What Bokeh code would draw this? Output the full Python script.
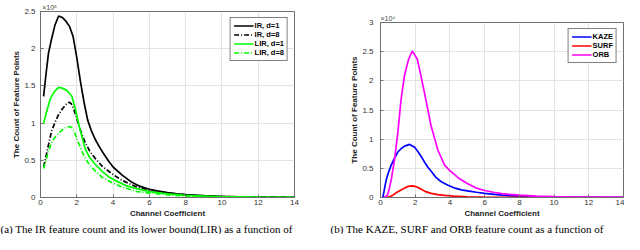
from bokeh.plotting import figure
from bokeh.layouts import row, column
from bokeh.models import FixedTicker, Legend, LegendItem, Title, LinearAxis
from bokeh.embed import file_html
from bokeh.resources import INLINE

FONT = "Liberation Sans"
SERIF = "Liberation Serif"

x_ticks = [0, 2, 4, 6, 8, 10, 12, 14]
left_y_ticks = [0, 0.5, 1, 1.5, 2, 2.5]
right_y_ticks = [0, 0.5, 1, 1.5, 2, 2.5, 3]

# ---- left panel: counts in units of 1e5 ----
ir_d1_x = [0.17, 0.3, 0.44, 0.6, 0.8, 1.0, 1.2, 1.4, 1.6, 1.8, 2.0, 2.2, 2.4, 2.6, 2.8, 3.0, 3.2, 3.5, 3.75, 4.0, 4.5, 5.0, 5.3, 5.5, 6.0, 6.5, 7.0, 7.5, 8.0, 9.0, 10.0, 11.0, 12.0, 13.0, 14.0]
ir_d1_y = [1.36, 1.65, 1.94, 2.12, 2.32, 2.44, 2.42, 2.37, 2.30, 2.16, 1.88, 1.56, 1.28, 1.04, 0.90, 0.79, 0.70, 0.58, 0.49, 0.41, 0.30, 0.21, 0.17, 0.15, 0.11, 0.085, 0.065, 0.05, 0.038, 0.024, 0.015, 0.01, 0.007, 0.005, 0.003]

ir_d8_x = [0.17, 0.3, 0.45, 0.62, 0.8, 0.99, 1.2, 1.4, 1.58, 1.7, 1.82, 1.95, 2.09, 2.25, 2.46, 2.7, 3.0, 3.4, 3.93, 4.5, 5.3, 6.0, 7.0, 8.0, 9.0, 10.0, 12.0, 14.0]
ir_d8_y = [0.41, 0.55, 0.72, 0.90, 1.01, 1.11, 1.19, 1.25, 1.28, 1.26, 1.20, 1.10, 0.99, 0.87, 0.74, 0.63, 0.53, 0.42, 0.32, 0.23, 0.14, 0.10, 0.06, 0.035, 0.02, 0.012, 0.005, 0.002]

lir_d1_x = [0.17, 0.3, 0.53, 0.75, 1.0, 1.2, 1.45, 1.73, 1.91, 2.05, 2.19, 2.46, 2.7, 3.0, 3.4, 3.75, 4.2, 4.7, 5.3, 6.0, 7.0, 8.0, 9.0, 10.0, 12.0, 14.0]
lir_d1_y = [0.99, 1.12, 1.32, 1.42, 1.48, 1.47, 1.44, 1.36, 1.20, 1.05, 0.90, 0.66, 0.54, 0.45, 0.35, 0.28, 0.22, 0.16, 0.12, 0.08, 0.05, 0.03, 0.018, 0.011, 0.005, 0.002]

lir_d8_x = [0.17, 0.3, 0.45, 0.62, 0.8, 0.99, 1.2, 1.4, 1.6, 1.72, 1.82, 1.95, 2.09, 2.25, 2.46, 2.7, 3.0, 3.4, 3.93, 4.5, 5.3, 6.0, 7.0, 8.0, 9.0, 10.0, 12.0, 14.0]
lir_d8_y = [0.39, 0.50, 0.63, 0.74, 0.81, 0.86, 0.91, 0.94, 0.955, 0.94, 0.90, 0.83, 0.74, 0.64, 0.53, 0.44, 0.36, 0.27, 0.20, 0.14, 0.08, 0.06, 0.035, 0.02, 0.012, 0.008, 0.003, 0.001]

# ---- right panel: counts in units of 1e4 ----
kaze_x = [0.13, 0.2, 0.32, 0.45, 0.61, 0.8, 1.0, 1.2, 1.39, 1.68, 1.97, 2.15, 2.35, 2.55, 2.73, 3.0, 3.21, 3.5, 3.89, 4.3, 4.66, 5.1, 5.53, 6.0, 7.0, 8.0, 9.0, 10.0, 12.0, 14.0]
kaze_y = [0.0, 0.10, 0.29, 0.42, 0.55, 0.67, 0.78, 0.84, 0.88, 0.91, 0.86, 0.79, 0.70, 0.60, 0.52, 0.42, 0.34, 0.27, 0.21, 0.16, 0.13, 0.11, 0.09, 0.07, 0.04, 0.02, 0.012, 0.008, 0.003, 0.001]

surf_x = [0.32, 0.5, 0.71, 0.95, 1.19, 1.4, 1.58, 1.87, 2.1, 2.35, 2.6, 2.92, 3.3, 3.7, 4.2, 5.0, 6.0, 7.0, 8.0, 10.0, 14.0]
surf_y = [0.0, 0.01, 0.04, 0.09, 0.13, 0.165, 0.19, 0.20, 0.18, 0.14, 0.10, 0.07, 0.05, 0.035, 0.022, 0.012, 0.006, 0.003, 0.002, 0.001, 0.0]

orb_x = [0.23, 0.42, 0.61, 0.81, 1.0, 1.19, 1.39, 1.62, 1.83, 1.96, 2.12, 2.35, 2.64, 2.92, 3.31, 3.7, 4.0, 4.47, 5.0, 5.53, 6.0, 6.5, 7.0, 8.0, 9.0, 10.0, 11.0, 12.0, 13.0, 14.0]
orb_y = [0.0, 0.05, 0.29, 0.65, 1.12, 1.69, 2.11, 2.37, 2.51, 2.45, 2.37, 2.06, 1.64, 1.22, 0.81, 0.55, 0.46, 0.34, 0.24, 0.16, 0.12, 0.09, 0.065, 0.04, 0.025, 0.015, 0.01, 0.007, 0.005, 0.003]

x_label = "Channel Coefficient"
y_label = "The Count of Feature Points"
caption_a = "(a) The IR feature count and its lower bound(LIR) as a function of"
caption_b = "(b) The KAZE, SURF and ORB feature count as a function of"
exp_a = "×10⁵"
exp_b = "×10⁴"


def make_fig(width, yticks, ymax, left, right, top, bottom, label_standoff):
    p = figure(width=width, height=234, x_range=(0, 14), y_range=(0, ymax),
               output_backend="svg", toolbar_location=None,
               min_border_left=left, min_border_right=right,
               min_border_top=top, min_border_bottom=bottom)
    p.title.text = ""
    p.outline_line_color = "#707070"
    p.outline_line_width = 1
    p.background_fill_color = "white"
    p.border_fill_color = "white"
    p.xaxis.ticker = FixedTicker(ticks=x_ticks)
    p.yaxis.ticker = FixedTicker(ticks=yticks)
    p.yaxis.major_label_overrides = {t: ("%g" % t) for t in yticks}
    for ax in (p.xaxis, p.yaxis):
        ax.axis_line_color = "#707070"
        ax.major_tick_line_color = "#707070"
        ax.major_tick_in = 3
        ax.major_tick_out = 0
        ax.minor_tick_line_color = None
        ax.major_label_text_font = FONT
        ax.major_label_text_font_size = "8px"
        ax.major_label_text_color = "#333333"
        ax.axis_label_text_font = FONT
        ax.axis_label_text_font_size = "8px"
        ax.axis_label_text_font_style = "bold"
        ax.axis_label_text_color = "#222222"
    p.xaxis.major_label_standoff = 2
    p.xaxis.axis_label_standoff = 1
    p.yaxis.major_label_standoff = label_standoff
    p.yaxis.axis_label_standoff = 0
    p.xaxis.axis_label = x_label
    p.yaxis.axis_label = y_label
    p.grid.grid_line_color = "#e3e3e3"
    p.grid.grid_line_width = 1
    return p


def add_caption(p, text, offset):
    t = Title(text=text, align="left", offset=offset, standoff=0,
              text_font=SERIF, text_font_size="11px", text_font_style="normal",
              text_color="black")
    p.add_layout(t, "below")


def style_legend(leg):
    leg.location = "top_right"
    leg.margin = 6
    leg.padding = 3
    leg.spacing = 0
    leg.border_line_color = "black"
    leg.border_line_width = 1
    leg.background_fill_color = "white"
    leg.background_fill_alpha = 1
    leg.label_text_font = FONT
    leg.label_text_font_size = "7.5px"
    leg.label_text_font_style = "bold"
    leg.label_text_color = "black"
    leg.glyph_width = 20
    leg.glyph_height = 9
    leg.label_height = 9
    leg.label_standoff = 1


LW = 1.7

# ---------- left ----------
p1 = make_fig(320, left_y_ticks, 2.5, 40, 26, 10, 33, 5)
# exponent marker drawn as the single label of a bare top axis
EXP_TICK = 0.5
exp_axis = LinearAxis(ticker=FixedTicker(ticks=[EXP_TICK]),
                      major_label_overrides={EXP_TICK: exp_a},
                      axis_line_color=None, major_tick_line_color=None,
                      major_tick_in=0, major_tick_out=0,
                      minor_tick_line_color=None, minor_tick_in=0, minor_tick_out=0,
                      major_label_standoff=1,
                      major_label_text_font=FONT, major_label_text_font_size="7px",
                      major_label_text_color="#444444")
p1.add_layout(exp_axis, "above")
r1 = p1.line(ir_d1_x, ir_d1_y, line_color="black", line_width=LW)
r2 = p1.line(ir_d8_x, ir_d8_y, line_color="black", line_width=LW, line_dash="5 2 1 2")
r3 = p1.line(lir_d1_x, lir_d1_y, line_color="#00ff00", line_width=LW)
r4 = p1.line(lir_d8_x, lir_d8_y, line_color="#00ff00", line_width=LW, line_dash="5 2 1 2")
leg1 = Legend(items=[LegendItem(label="IR, d=1", renderers=[r1]),
                     LegendItem(label="IR, d=8", renderers=[r2]),
                     LegendItem(label="LIR, d=1", renderers=[r3]),
                     LegendItem(label="LIR, d=8", renderers=[r4])])
style_legend(leg1)
p1.add_layout(leg1)
add_caption(p1, caption_a, -40)

# ---------- right ----------
p2 = make_fig(304, right_y_ticks, 3, 60, 1, 22, 33, 7)
et = Title(text=exp_b, align="left", offset=0, standoff=1,
           text_font=FONT, text_font_size="7px", text_font_style="normal",
           text_color="#444444")
p2.add_layout(et, "above")
k = p2.line(kaze_x, kaze_y, line_color="#0000ff", line_width=LW)
s = p2.line(surf_x, surf_y, line_color="#ff0000", line_width=LW)
o = p2.line(orb_x, orb_y, line_color="#ff00ff", line_width=LW)
leg2 = Legend(items=[LegendItem(label="KAZE", renderers=[k]),
                     LegendItem(label="SURF", renderers=[s]),
                     LegendItem(label="ORB", renderers=[o])])
style_legend(leg2)
p2.add_layout(leg2)
add_caption(p2, caption_b, -50)

layout = row(column(p1), column(p2))
open("out.html", "w").write(file_html(layout, INLINE))
